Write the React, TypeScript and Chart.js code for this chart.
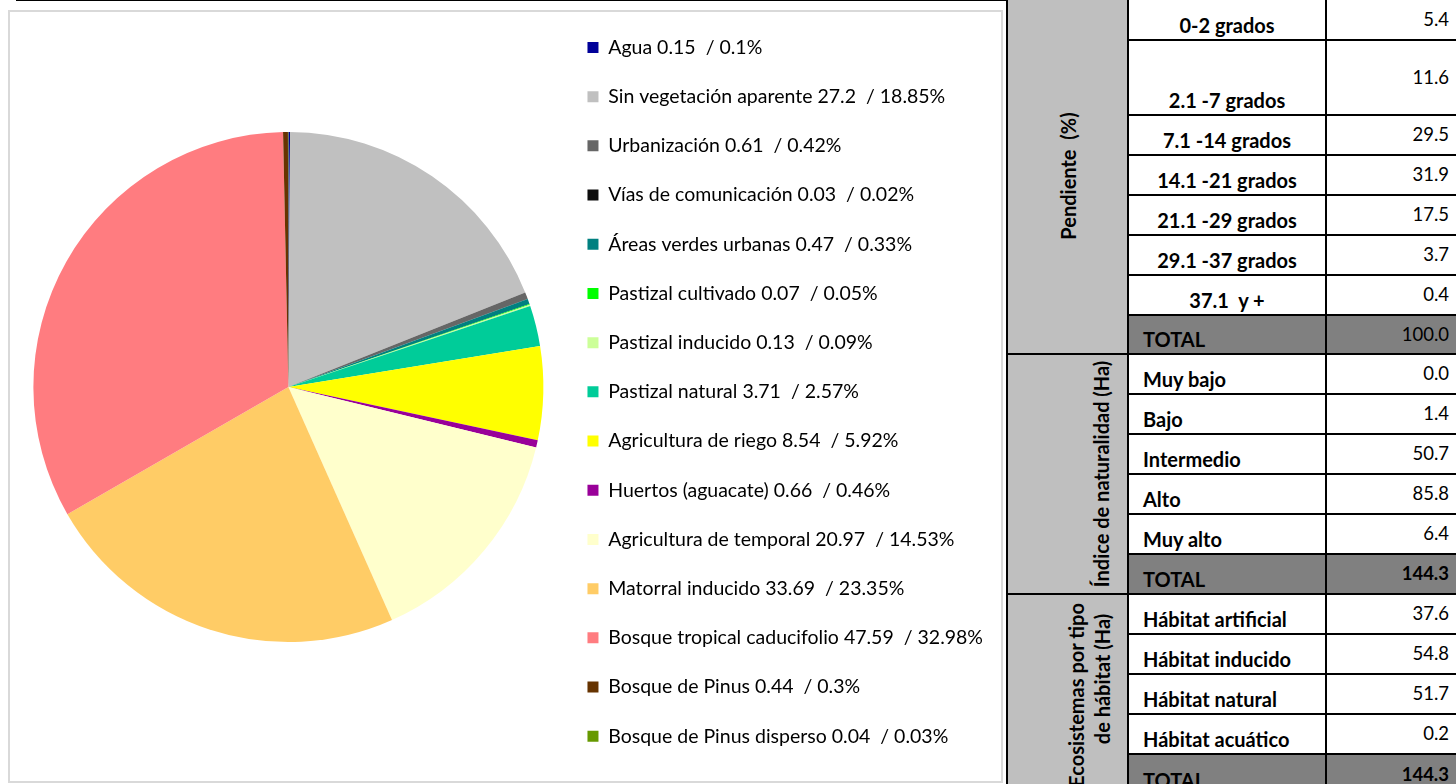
import React, { useEffect, useRef } from 'react';
import { Chart, registerables } from 'chart.js';

Chart.register(...registerables);

// ---------- Pie data ----------
const categories = [
  'Agua',
  'Sin vegetación aparente',
  'Urbanización',
  'Vías de comunicación',
  'Áreas verdes urbanas',
  'Pastizal cultivado',
  'Pastizal inducido',
  'Pastizal natural',
  'Agricultura de riego',
  'Huertos (aguacate)',
  'Agricultura de temporal',
  'Matorral inducido',
  'Bosque tropical caducifolio',
  'Bosque de Pinus',
  'Bosque de Pinus disperso',
];
const areaHa = [0.15, 27.2, 0.61, 0.03, 0.47, 0.07, 0.13, 3.71, 8.54, 0.66, 20.97, 33.69, 47.59, 0.44, 0.04];
const percent = [0.1, 18.85, 0.42, 0.02, 0.33, 0.05, 0.09, 2.57, 5.92, 0.46, 14.53, 23.35, 32.98, 0.3, 0.03];
const sliceColors = [
  '#000099', '#C0C0C0', '#666666', '#0D0D0D', '#008080', '#00FF00', '#CCFF99', '#00CC99',
  '#FFFF00', '#990099', '#FFFFCC', '#FFCC66', '#FF7C80', '#663300', '#669900',
];

// ---------- Table data ----------
const pendienteTitle = 'Pendiente  (%)';
const pendienteLabels = ['0-2 grados', '2.1 -7 grados', '7.1 -14 grados', '14.1 -21 grados', '21.1 -29 grados', '29.1 -37 grados', '37.1  y +'];
const pendienteValues = ['5.4', '11.6', '29.5', '31.9', '17.5', '3.7', '0.4'];
const pendienteTotal = '100.0';

const naturalidadTitle = 'Índice de naturalidad (Ha)';
const naturalidadLabels = ['Muy bajo', 'Bajo', 'Intermedio', 'Alto', 'Muy alto'];
const naturalidadValues = ['0.0', '1.4', '50.7', '85.8', '6.4'];
const naturalidadTotal = '144.3';

const habitatTitle = ['Ecosistemas por tipo', 'de hábitat (Ha)'];
const habitatLabels = ['Hábitat artificial', 'Hábitat inducido', 'Hábitat natural', 'Hábitat acuático'];
const habitatValues = ['37.6', '54.8', '51.7', '0.2'];
const habitatTotal = '144.3';

const FONT = "Lato, 'Open Sans', sans-serif";
const LEGEND_FS = 19.5;
const TABLE_FS = 20;
const VALUE_FS = 18.5;
const BOXW = 11;

type Row = { label: string; value: string; total?: boolean; boldValue?: boolean; center?: boolean };

const rows: Row[] = [
  ...pendienteLabels.map((l, i) => ({ label: l, value: pendienteValues[i], center: true })),
  { label: 'TOTAL', value: pendienteTotal, total: true },
  ...naturalidadLabels.map((l, i) => ({ label: l, value: naturalidadValues[i] })),
  { label: 'TOTAL', value: naturalidadTotal, total: true, boldValue: true },
  ...habitatLabels.map((l, i) => ({ label: l, value: habitatValues[i] })),
  { label: 'TOTAL', value: habitatTotal, total: true, boldValue: true },
];

// horizontal rule tops (layout)
const lineTops = [39, 114, 154, 194, 234, 274, 314, 353, 393, 433, 473, 513, 553, 593, 633, 673, 713, 753];
const sectionLines = [353, 593];

const C1L = 1008, C1R = 1127, C2L = 1129, C2R = 1325, C3L = 1327, C3R = 1456;

function Table() {
  const els: React.ReactNode[] = [];
  els.push(<div key="c1" style={{ position: 'absolute', left: C1L, top: 0, width: C1R - C1L, height: 784, background: '#BFBFBF' }} />);
  rows.forEach((r, i) => {
    const top = i === 0 ? 0 : lineTops[i - 1] + 2;
    const bottom = i < lineTops.length ? lineTops[i] : 794;
    const h = bottom - top;
    const bg = r.total ? '#808080' : '#FFFFFF';
    els.push(
      <div key={'b' + i} style={{ position: 'absolute', left: C2L, top, width: C3R - C2L, height: h, background: bg }} />
    );
    els.push(
      <div
        key={'l' + i}
        style={{
          position: 'absolute',
          left: r.center ? C2L : C2L + 14,
          width: r.center ? C2R - C2L : undefined,
          textAlign: r.center ? 'center' : 'left',
          top: bottom - 4.3 - TABLE_FS,
          height: TABLE_FS,
          lineHeight: TABLE_FS + 'px',
          fontWeight: 700,
          fontSize: TABLE_FS,
          fontFamily: FONT,
          color: '#000',
          whiteSpace: 'pre',
        }}
      >
        {r.label}
      </div>
    );
    els.push(
      <div
        key={'v' + i}
        style={{
          position: 'absolute',
          left: C3L,
          width: C3R - C3L - 7,
          top: top + h / 2 - 11,
          height: 20,
          lineHeight: '20px',
          textAlign: 'right',
          fontWeight: r.boldValue ? 700 : 400,
          fontSize: VALUE_FS,
          fontFamily: FONT,
          color: '#000',
        }}
      >
        {r.value}
      </div>
    );
  });
  [1006, 1127, 1325].forEach((x, i) => {
    els.push(<div key={'vl' + i} style={{ position: 'absolute', left: x, top: 0, width: 2, height: 784, background: '#000' }} />);
  });
  lineTops.forEach((y, i) => {
    const full = sectionLines.includes(y);
    const left = full ? 1006 : 1127;
    els.push(<div key={'hl' + i} style={{ position: 'absolute', left, top: y, width: 1456 - left, height: 2, background: '#000' }} />);
  });
  const rot = (key: string, text: string, cx: number, cy: number) => (
    <div
      key={key}
      style={{
        position: 'absolute',
        left: cx,
        top: cy,
        transform: 'translate(-50%, -50%) rotate(-90deg)',
        whiteSpace: 'pre',
        fontWeight: 700,
        fontSize: TABLE_FS,
        fontFamily: FONT,
        lineHeight: TABLE_FS + 'px',
        color: '#000',
      }}
    >
      {text}
    </div>
  );
  els.push(rot('t1', pendienteTitle, 1068, 176));
  els.push(rot('t2', naturalidadTitle, 1101, 474));
  els.push(rot('t3a', habitatTitle[0], 1076, 695));
  els.push(rot('t3b', habitatTitle[1], 1102, 679));
  return <>{els}</>;
}

export default function App() {
  const ref = useRef<HTMLCanvasElement | null>(null);

  useEffect(() => {
    const canvas = ref.current;
    if (!canvas) return;
    const labels = categories.map((c, i) => `${c} ${areaHa[i]}  / ${percent[i]}%`);
    const mctx = document.createElement('canvas').getContext('2d')!;
    mctx.font = `normal ${LEGEND_FS}px ${FONT}`;
    const T = Math.max(...labels.map((l) => mctx.measureText(l).width));
    const pad = 49.2 - LEGEND_FS;
    const boxLeft = 587;
    const X0 = Math.round(576 - boxLeft + pad);
    const W = Math.ceil(boxLeft + BOXW + LEGEND_FS / 2 + T + 10 - X0);
    const Y0 = 8;
    const H = 771;
    canvas.width = W;
    canvas.height = H;
    canvas.style.left = X0 + 'px';
    canvas.style.top = Y0 + 'px';
    canvas.style.width = W + 'px';
    canvas.style.height = H + 'px';

    const chart = new Chart(canvas, {
      type: 'pie',
      data: {
        labels,
        datasets: [
          {
            data: areaHa,
            backgroundColor: sliceColors,
            borderWidth: 0,
            radius: 255,
          } as any,
        ],
      },
      options: {
        animation: false,
        responsive: false,
        maintainAspectRatio: false,
        layout: { padding: 0 },
        plugins: {
          legend: {
            position: 'right',
            align: 'start',
            labels: {
              boxWidth: BOXW,
              boxHeight: BOXW,
              padding: pad,
              color: '#000',
              font: { family: FONT, size: LEGEND_FS },
            },
          },
          title: {
            display: true,
            text: ' ',
            position: 'bottom',
            fullSize: false,
            padding: 0,
            font: { size: 13, lineHeight: 1 },
          },
          tooltip: { enabled: false },
        },
      },
    });
    return () => chart.destroy();
  }, []);

  return (
    <div style={{ position: 'absolute', left: 0, top: 0, width: 1456, height: 784, overflow: 'hidden', background: '#fff' }}>
      <div style={{ position: 'absolute', left: 16, top: 0, width: 990, height: 1, background: '#000' }} />
      <div
        style={{
          position: 'absolute',
          left: 8,
          top: 10,
          width: 995,
          height: 773,
          boxSizing: 'border-box',
          border: '2px solid #D9D9D9',
        }}
      />
      <canvas ref={ref} style={{ position: 'absolute' }} />
      <Table />
    </div>
  );
}
